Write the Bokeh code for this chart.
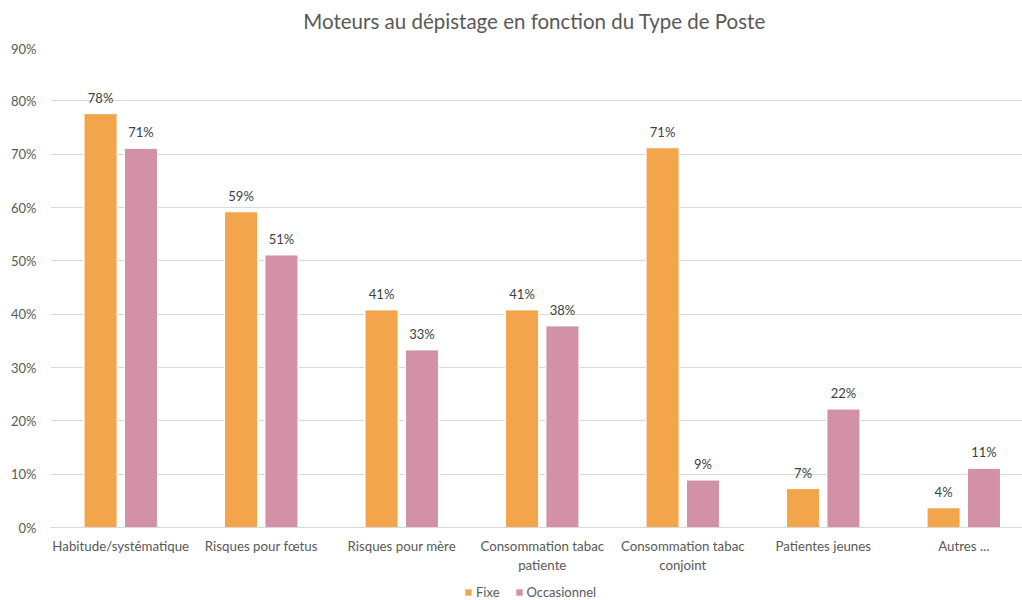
from bokeh.plotting import figure
from bokeh.layouts import column
from bokeh.models import (ColumnDataSource, Range1d, FixedTicker, NumeralTickFormatter,
                          Legend, LegendItem)
from bokeh.embed import file_html
from bokeh.resources import INLINE
from bokeh.core.properties import value

title_text = "Moteurs au dépistage en fonction du Type de Poste"
categories = ["Habitude/systématique", "Risques pour fœtus", "Risques pour mère",
              "Consommation tabac\npatiente", "Consommation tabac\nconjoint",
              "Patientes jeunes", "Autres ..."]
fixe = [0.776, 0.592, 0.408, 0.408, 0.712, 0.073, 0.037]
occasionnel = [0.711, 0.511, 0.333, 0.378, 0.089, 0.222, 0.111]
series_names = ["Fixe", "Occasionnel"]
colors = ["#F2A54A", "#D291A6"]
y_ticks = [0.0, 0.1, 0.2, 0.3, 0.4, 0.5, 0.6, 0.7, 0.8, 0.9]

FONT = "Lato"
TXT = "#595959"

centers = [i + 0.5 for i in range(len(categories))]
off = 0.1437
bw = 0.235

# title strip
tf = figure(width=1022, height=40, output_backend="svg", toolbar_location=None,
            x_range=Range1d(0, 1022), y_range=Range1d(0, 40),
            min_border_left=0, min_border_right=0, min_border_top=0, min_border_bottom=0)
tf.axis.visible = False
tf.grid.visible = False
tf.outline_line_color = None
tf.border_fill_color = "white"
tf.text(x=[509], y=[20], text=[title_text], text_align="center", text_baseline="middle",
        text_font=value(FONT), text_font_size="20.5px", text_color=TXT)

p = figure(width=1022, height=535, output_backend="svg", toolbar_location=None,
           x_range=Range1d(0, 6.918), y_range=Range1d(0, 0.9),
           min_border_left=50, min_border_right=0, min_border_top=7, min_border_bottom=48)
p.outline_line_color = None
p.background_fill_color = "white"
p.border_fill_color = "white"

for vals, name, col, sign in [(fixe, series_names[0], colors[0], -1),
                              (occasionnel, series_names[1], colors[1], 1)]:
    src = ColumnDataSource(dict(x=[c + sign * off for c in centers], top=vals,
                                lab=["%d%%" % round(v * 100) for v in vals]))
    p.vbar(x="x", top="top", width=bw, bottom=0, source=src, fill_color=col,
           line_color="white", line_width=1)
    p.text(x="x", y="top", text="lab", source=src, text_align="center",
           text_baseline="bottom", y_offset=-8, text_font=value(FONT),
           text_font_size="13px", text_color="#404040")

# axes
p.xaxis.ticker = FixedTicker(ticks=centers)
p.xaxis.major_label_overrides = {c: lab for c, lab in zip(centers, categories)}
p.xaxis.major_tick_line_color = None
p.xaxis.minor_tick_line_color = None
p.xaxis.axis_line_color = "#D9D9D9"
p.xaxis.major_label_text_font = FONT
p.xaxis.major_label_text_font_size = "13.3px"
p.xaxis.major_label_text_color = TXT
p.xaxis.major_label_standoff = 10
p.xaxis.major_tick_out = 0
p.xaxis.major_tick_in = 0

p.yaxis.ticker = FixedTicker(ticks=y_ticks)
p.yaxis.formatter = NumeralTickFormatter(format="0%")
p.yaxis.axis_line_color = None
p.yaxis.major_tick_line_color = None
p.yaxis.minor_tick_line_color = None
p.yaxis.major_tick_out = 0
p.yaxis.major_tick_in = 0
p.yaxis.major_label_standoff = 14
p.yaxis.major_label_text_font = FONT
p.yaxis.major_label_text_font_size = "13px"
p.yaxis.major_label_text_color = TXT

p.xgrid.grid_line_color = None
p.ygrid.ticker = FixedTicker(ticks=y_ticks)
p.ygrid.grid_line_color = "#D9D9D9"
p.ygrid.grid_line_width = 1

# legend strip below the chart
lg = figure(width=1022, height=25, output_backend="svg", toolbar_location=None,
            x_range=Range1d(0, 1), y_range=Range1d(0, 1),
            min_border_left=0, min_border_right=0, min_border_top=0, min_border_bottom=0)
lg.axis.visible = False
lg.grid.visible = False
lg.outline_line_color = None
lg.border_fill_color = "white"
items = []
for name, col in zip(series_names, colors):
    r = lg.vbar(x=[5], top=[5], bottom=[4], width=0.1, fill_color=col, line_color=None)
    items.append(LegendItem(label=name, renderers=[r]))
legend = Legend(items=items, orientation="horizontal", location=(414, 0),
                label_text_font=FONT, label_text_font_size="13px", label_text_color=TXT,
                glyph_width=8, glyph_height=8, label_height=14, spacing=15, label_standoff=4,
                padding=0, margin=0, border_line_color=None, background_fill_alpha=0)
lg.add_layout(legend, "center")

layout = column(tf, p, lg, spacing=0)
open("out.html", "w").write(file_html(layout, INLINE))
